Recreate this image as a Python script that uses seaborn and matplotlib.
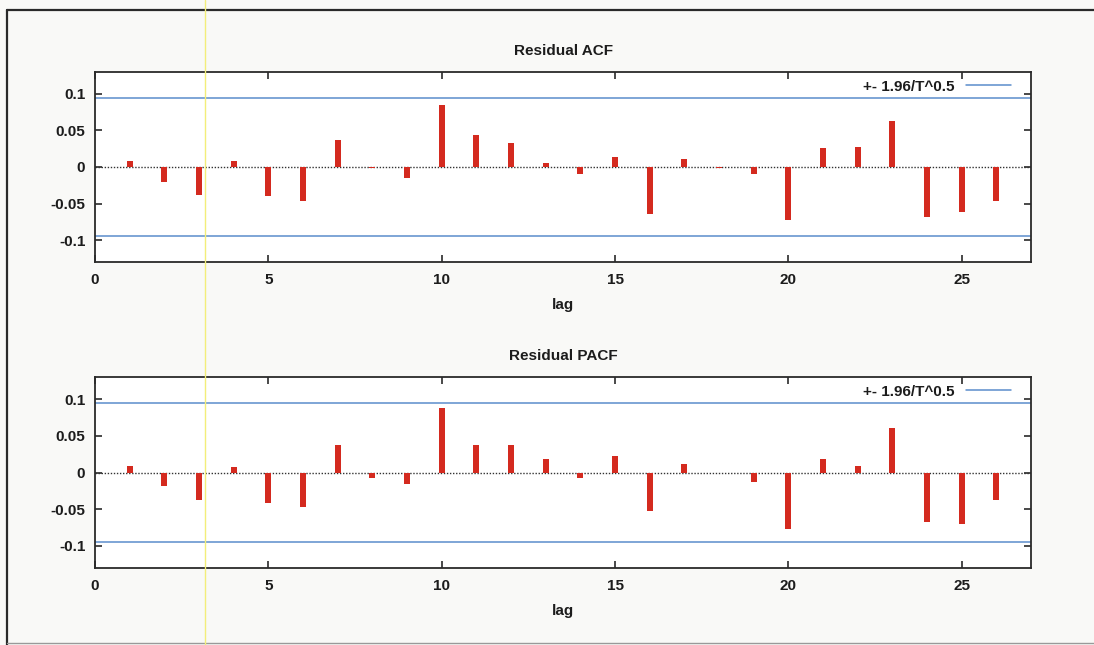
import numpy as np
import pandas as pd
import seaborn as sns
import matplotlib
matplotlib.use("Agg")
import matplotlib.pyplot as plt
from matplotlib.lines import Line2D

# Residual correlogram values by lag
lags = list(range(1, 27))
acf = [0.008, -0.020, -0.038, 0.008, -0.040, -0.046, 0.037, -0.002, -0.015, 0.085,
       0.044, 0.033, 0.005, -0.009, 0.013, -0.064, 0.011, -0.002, -0.009, -0.072,
       0.026, 0.027, 0.063, -0.068, -0.062, -0.046]
pacf = [0.009, -0.019, -0.038, 0.008, -0.041, -0.047, 0.038, -0.008, -0.016, 0.088,
        0.038, 0.037, 0.018, -0.008, 0.022, -0.053, 0.011, -0.001, -0.013, -0.077,
        0.019, 0.009, 0.060, -0.068, -0.070, -0.038]
band = 0.094  # +- 1.96/T^0.5
titles = ["Residual ACF", "Residual PACF"]
xtick_vals = [0, 5, 10, 15, 20, 25]
ytick_vals = [-0.1, -0.05, 0, 0.05, 0.1]
ytick_labels = ["-0.1", "-0.05", "0", "0.05", "0.1"]
legend_label = "+- 1.96/T^0.5"

sns.set_theme(style="ticks")
plt.rcParams["font.family"] = ["Liberation Sans", "DejaVu Sans"]
plt.rcParams["font.weight"] = "bold"

RED = "#d42a1f"
BLUE = "#5b8dcc"
INK = "#2a2a2a"
TXT = "#1c1c1c"
FS = 11

fig = plt.figure(figsize=(10.94, 6.45), dpi=100, facecolor="#f9f9f7")

# outer page frame
fig.add_artist(Line2D([7 / 1094, 1.0], [1 - 10 / 645, 1 - 10 / 645], color=INK, lw=1.6))
fig.add_artist(Line2D([7 / 1094, 7 / 1094], [0, 1 - 10 / 645], color=INK, lw=1.6))
fig.add_artist(Line2D([7 / 1094, 1.0], [2 / 645, 2 / 645], color="#999999", lw=1.0))
# faint yellow stripe across the page
fig.add_artist(Line2D([205 / 1094, 205 / 1094], [0, 1], color="#f3ee7a", lw=1.0, zorder=10))

positions = [
    [95 / 1094, 1 - 262 / 645, 936 / 1094, 190 / 645],
    [95 / 1094, 1 - 568 / 645, 936 / 1094, 191 / 645],
]

for pos, vals, title in zip(positions, [acf, pacf], titles):
    ax = fig.add_axes(pos)
    ax.set_facecolor("white")
    df = pd.DataFrame({"lag": lags, "value": vals})
    sns.barplot(data=df, x="lag", y="value", native_scale=True, width=0.17,
                color=RED, saturation=1, edgecolor="none", ax=ax, zorder=3)
    ax.axhline(0, color="#333333", lw=1.0, ls=(0, (1, 1.2)), zorder=2)
    ax.axhline(band, color=BLUE, lw=1.1, label=legend_label, zorder=2)
    ax.axhline(-band, color=BLUE, lw=1.1, zorder=2)
    ax.set_xlim(0, 27)
    ax.set_ylim(-0.13, 0.13)
    ax.set_xticks(xtick_vals)
    ax.set_xticklabels([str(v) for v in xtick_vals])
    ax.set_yticks(ytick_vals)
    ax.set_yticklabels(ytick_labels)
    ax.tick_params(direction="in", length=5, width=1.2, color=INK,
                   top=True, right=True, labelsize=FS, labelcolor=TXT)
    ax.tick_params(axis="x", pad=8)
    ax.tick_params(axis="y", pad=7)
    for s in ax.spines.values():
        s.set_visible(True)
        s.set_color(INK)
        s.set_linewidth(1.3)
    ax.set_ylabel("")
    ax.set_xlabel("lag", fontsize=FS, fontweight="bold", color=TXT, labelpad=8)
    ax.set_title(title, fontsize=FS, fontweight="bold", color=TXT, pad=12)
    ax.legend(loc="upper right", bbox_to_anchor=(0.982, 0.975), frameon=False,
              markerfirst=False, fontsize=FS, handlelength=2.95, handletextpad=0.75,
              borderaxespad=0, borderpad=0.2, labelcolor=TXT)

fig.savefig("out.png", dpi=100, facecolor=fig.get_facecolor())
